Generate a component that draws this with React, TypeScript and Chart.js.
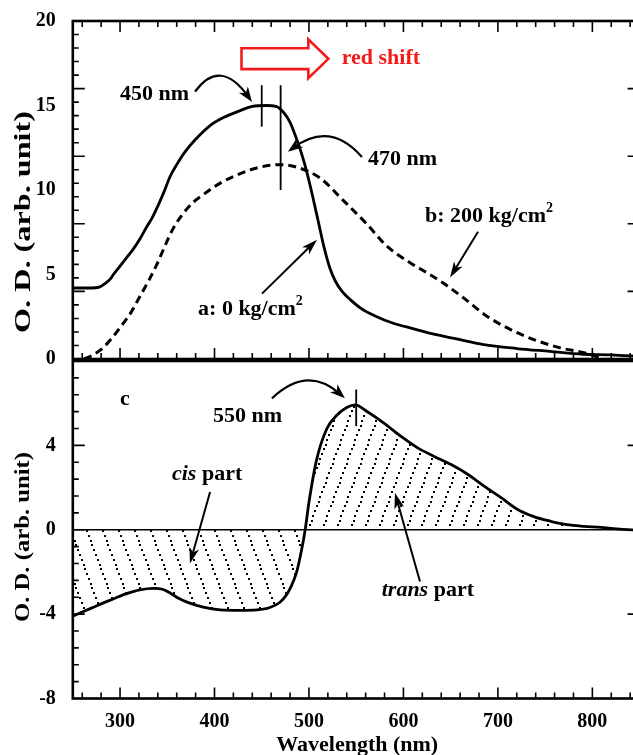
import React, { useEffect, useRef } from "react";
import { Chart, registerables } from "chart.js";
Chart.register(...registerables);

// ---- data ----
// curve a: 0 kg/cm2 (solid)
const aWavelength = [250,260,270,278,285,290,293,300,307,314,321,328,334,340,347,353,360,368,380,395,410,425,440,455,465,473,480,487,493,498,504,510,516,522,528,535,544,555,570,590,610,630,655,685,720,755,790,820,850];
const aOD = [4.2,4.2,4.2,4.25,4.5,4.75,5.0,5.5,6.0,6.5,7.1,7.8,8.35,9.05,9.95,10.8,11.5,12.2,13.0,13.8,14.3,14.65,14.95,15.0,14.95,14.6,14.0,13.0,12.0,11.0,9.6,8.1,6.6,5.4,4.6,4.0,3.5,3.0,2.55,2.1,1.8,1.5,1.2,0.85,0.62,0.45,0.28,0.25,0.15];
// curve b: 200 kg/cm2 (dashed)
const bWavelength = [262,270,282,293,302,311,321,330,339,348,356,366,378,390,400,420,448,470,490,512,536,561,582,607,625,642,664,688,713,738,766,791,801,812];
const bOD = [0,0.2,0.66,1.35,2.0,2.7,3.7,4.6,5.6,6.75,7.7,8.55,9.3,9.8,10.2,10.8,11.35,11.5,11.3,10.7,9.4,8.0,6.7,5.7,5.1,4.5,3.6,2.55,1.75,1.15,0.66,0.37,0.2,0];
// curve c: difference spectrum
const cWavelength = [250,260,272,289,307,321,335,345,353,362,371,388,406,427,445,458,469,476,481,487,492,496,500,508,519,530,540,549,561,579,597,615,632,650,668,685,703,720,738,756,773,791,809,826,850];
const cOD = [-4.1,-3.9,-3.67,-3.35,-3.03,-2.85,-2.78,-2.82,-3.0,-3.25,-3.43,-3.67,-3.8,-3.82,-3.8,-3.7,-3.45,-3.1,-2.7,-2.0,-1.0,0,1.3,3.3,4.8,5.45,5.8,5.92,5.62,5.07,4.44,3.88,3.49,3.1,2.63,2.08,1.53,0.98,0.62,0.4,0.24,0.16,0.11,0.04,-0.02];

const xTickLabels = [300, 400, 500, 600, 700, 800];
const topYTickLabels = [0, 5, 10, 15, 20];
const bottomYTickLabels = [-8, -4, 0, 4];
const X_MIN = 250;
const X_MAX = 850;
const TOP_Y = [0, 20];
const BOT_Y = [-8, 8];
const Y_TITLE = "O. D. (arb. unit)";
const X_TITLE = "Wavelength (nm)";

const FONT = '"Liberation Serif", "Times New Roman", serif';
const RED = "#f21a1a";

// ---- layout ----
const CW = 660;
const PLOT_LEFT = 72.8;
const PAD_RIGHT = 20.4;

function pts(xs: number[], ys: number[]) {
  return xs.map((x, i) => ({ x, y: ys[i] }));
}

function makeHatch(w: number, h: number, slash: boolean, n: number) {
  const c = document.createElement("canvas");
  c.width = w;
  c.height = h;
  const g = c.getContext("2d")!;
  g.fillStyle = "#000";
  for (let i = 0; i < n; i++) {
    const t = i / n;
    const x = t * w;
    const y = slash ? h - t * h : t * h;
    for (const dx of [-w, 0, w])
      for (const dy of [-h, 0, h]) g.fillRect(Math.round(x + dx - 1), Math.round(y + dy - 1), 2, 2);
  }
  return g.createPattern(c, "repeat")!;
}

function arrowHead(ctx: CanvasRenderingContext2D, x: number, y: number, ang: number, len = 14, half = 5) {
  const c = Math.cos(ang), s = Math.sin(ang);
  ctx.beginPath();
  ctx.moveTo(x, y);
  ctx.lineTo(x - len * c + half * s, y - len * s - half * c);
  ctx.lineTo(x - len * 0.72 * c, y - len * 0.72 * s);
  ctx.lineTo(x - len * c - half * s, y - len * s + half * c);
  ctx.closePath();
  ctx.fill();
}

function drawRich(ctx: CanvasRenderingContext2D, parts: Array<[string, string]>, x: number, y: number, size: number, color = "#000") {
  ctx.save();
  ctx.fillStyle = color;
  ctx.textBaseline = "middle";
  ctx.textAlign = "left";
  let cx = x;
  for (const [t, st] of parts) {
    let s = size, dy = 0, style = "";
    if (st === "sup") { s = Math.round(size * 0.62); dy = -size * 0.36; }
    if (st === "i") style = "italic ";
    ctx.font = `${style}bold ${s}px ${FONT}`;
    ctx.fillText(t, cx, y + dy);
    cx += ctx.measureText(t).width;
  }
  ctx.restore();
}

function drawYTitle(ctx: CanvasRenderingContext2D, cx: number, cy: number, len: number, size: number) {
  ctx.save();
  ctx.font = `bold ${size}px ${FONT}`;
  const w = ctx.measureText(Y_TITLE).width;
  ctx.translate(cx, cy);
  ctx.rotate(-Math.PI / 2);
  ctx.scale(len / w, 1);
  ctx.textAlign = "center";
  ctx.textBaseline = "middle";
  ctx.fillStyle = "#000";
  ctx.fillText(Y_TITLE, 0, 0);
  ctx.restore();
}

function drawFrame(chart: any, yMin: number, yMax: number, topXTicks: boolean, bottomXTicks: boolean) {
  const ctx: CanvasRenderingContext2D = chart.ctx;
  const { left, right, top, bottom } = chart.chartArea;
  const xs = chart.scales.x, ys = chart.scales.y;
  ctx.save();
  ctx.strokeStyle = "#000";
  ctx.lineWidth = 1.6;
  ctx.beginPath();
  for (let nm = 260; nm < X_MAX; nm += 20) {
    const p = xs.getPixelForValue(nm);
    const len = nm % 100 === 0 ? 11 : 6;
    if (topXTicks) { ctx.moveTo(p, top); ctx.lineTo(p, top + len); }
    if (bottomXTicks) { ctx.moveTo(p, bottom); ctx.lineTo(p, bottom - len); }
  }
  const n = Math.round((yMax - yMin) / 0.8);
  for (let i = 1; i < n; i++) {
    const v = yMin + i * 0.8;
    const p = ys.getPixelForValue(v);
    const major = Math.abs(Math.round(v * 10)) % 40 === 0;
    const len = major ? 12 : 6;
    ctx.moveTo(left, p); ctx.lineTo(left + len, p);
    ctx.moveTo(right, p); ctx.lineTo(right - len, p);
  }
  ctx.stroke();
  ctx.lineWidth = 2.6;
  ctx.strokeRect(left, top, right - left, bottom - top);
  ctx.restore();
}

function vMark(chart: any, nm: number, v0: number, v1: number) {
  const ctx: CanvasRenderingContext2D = chart.ctx;
  const x = chart.scales.x.getPixelForValue(nm);
  ctx.save();
  ctx.strokeStyle = "#000";
  ctx.lineWidth = 1.8;
  ctx.beginPath();
  ctx.moveTo(x, chart.scales.y.getPixelForValue(v0));
  ctx.lineTo(x, chart.scales.y.getPixelForValue(v1));
  ctx.stroke();
  ctx.restore();
}

function straightArrow(chart: any, x0: number, v0: number, x1: number, v1: number) {
  const ctx: CanvasRenderingContext2D = chart.ctx;
  const X = (v: number) => chart.scales.x.getPixelForValue(v);
  const Y = (v: number) => chart.scales.y.getPixelForValue(v);
  const ax = X(x0), ay = Y(v0), bx = X(x1), by = Y(v1);
  const ang = Math.atan2(by - ay, bx - ax);
  ctx.save();
  ctx.strokeStyle = "#000";
  ctx.fillStyle = "#000";
  ctx.lineWidth = 2;
  ctx.beginPath();
  ctx.moveTo(ax, ay);
  ctx.lineTo(bx - 8 * Math.cos(ang), by - 8 * Math.sin(ang));
  ctx.stroke();
  arrowHead(ctx, bx, by, ang, 16, 5);
  ctx.restore();
}

function curvedArrow(chart: any, p0: number[], c: number[], p2: number[]) {
  const ctx: CanvasRenderingContext2D = chart.ctx;
  const X = (v: number) => chart.scales.x.getPixelForValue(v);
  const Y = (v: number) => chart.scales.y.getPixelForValue(v);
  const ax = X(p0[0]), ay = Y(p0[1]), cx = X(c[0]), cy = Y(c[1]), bx = X(p2[0]), by = Y(p2[1]);
  const ang = Math.atan2(by - cy, bx - cx);
  ctx.save();
  ctx.strokeStyle = "#000";
  ctx.fillStyle = "#000";
  ctx.lineWidth = 2.2;
  ctx.beginPath();
  ctx.moveTo(ax, ay);
  ctx.quadraticCurveTo(cx, cy, bx - 6 * Math.cos(ang), by - 6 * Math.sin(ang));
  ctx.stroke();
  arrowHead(ctx, bx, by, ang, 15, 5.5);
  ctx.restore();
}

const topPlugin = {
  id: "topDecor",
  afterDatasetsDraw(chart: any) {
    const ctx: CanvasRenderingContext2D = chart.ctx;
    const X = (v: number) => chart.scales.x.getPixelForValue(v);
    const Y = (v: number) => chart.scales.y.getPixelForValue(v);
    drawFrame(chart, TOP_Y[0], TOP_Y[1], true, true);
    vMark(chart, 450, 13.75, 16.2);
    vMark(chart, 470, 10.0, 16.2);
    ctx.save();
    ctx.strokeStyle = RED;
    ctx.fillStyle = "#fff";
    ctx.lineWidth = 2.6;
    ctx.beginPath();
    ctx.moveTo(X(428.6), Y(18.39));
    ctx.lineTo(X(499.3), Y(18.39));
    ctx.lineTo(X(499.3), Y(18.92));
    ctx.lineTo(X(520.5), Y(17.76));
    ctx.lineTo(X(499.3), Y(16.61));
    ctx.lineTo(X(499.3), Y(17.15));
    ctx.lineTo(X(428.6), Y(17.15));
    ctx.closePath();
    ctx.fill();
    ctx.stroke();
    ctx.restore();
    drawRich(ctx, [["red shift", "b"]], X(534.6), Y(17.8), 22, RED);
    drawRich(ctx, [["450 nm", "b"]], X(300), Y(15.69), 22);
    curvedArrow(chart, [379.4, 15.82], [406.3, 17.86], [439.7, 15.21]);
    drawRich(ctx, [["470 nm", "b"]], X(562.5), Y(11.79), 22);
    curvedArrow(chart, [556, 11.95], [522.3, 14.12], [477.7, 12.26]);
    drawRich(ctx, [["a: 0 kg/cm", "b"], ["2", "sup"]], X(382.6), Y(2.92), 22);
    straightArrow(chart, 450.3, 3.87, 508.5, 7.06);
    drawRich(ctx, [["b: 200 kg/cm", "b"], ["2", "sup"]], X(622.8), Y(8.44), 22);
    straightArrow(chart, 679, 7.53, 649.3, 4.82);
    drawYTitle(ctx, 24, 222, 222, 24);
  },
};

const bottomPlugin = {
  id: "bottomDecor",
  beforeDatasetsDraw(chart: any) {
    const ctx: CanvasRenderingContext2D = chart.ctx;
    const { left, right } = chart.chartArea;
    const y0 = chart.scales.y.getPixelForValue(0);
    ctx.save();
    ctx.strokeStyle = "#000";
    ctx.lineWidth = 1.6;
    ctx.beginPath();
    ctx.moveTo(left, y0);
    ctx.lineTo(right, y0);
    ctx.stroke();
    ctx.restore();
  },
  afterDatasetsDraw(chart: any) {
    const ctx: CanvasRenderingContext2D = chart.ctx;
    const X = (v: number) => chart.scales.x.getPixelForValue(v);
    const Y = (v: number) => chart.scales.y.getPixelForValue(v);
    drawFrame(chart, BOT_Y[0], BOT_Y[1], false, true);
    vMark(chart, 550, 4.91, 6.65);
    drawRich(ctx, [["c", "b"]], X(300), Y(6.2), 22);
    drawRich(ctx, [["550 nm", "b"]], X(398.4), Y(5.38), 22);
    curvedArrow(chart, [460.8, 6.23], [498.4, 7.83], [538, 6.23]);
    drawRich(ctx, [["cis", "i"], [" part", "b"]], X(355), Y(2.64), 22);
    straightArrow(chart, 395.3, 1.79, 374, -1.6);
    drawRich(ctx, [["trans", "i"], [" part", "b"]], X(577), Y(-2.88), 22);
    straightArrow(chart, 617.5, -2.45, 591, 1.75);
    drawYTitle(ctx, 24, 197, 170, 21);
    const { left, right } = chart.chartArea;
    ctx.save();
    ctx.font = `bold 22px ${FONT}`;
    ctx.fillStyle = "#000";
    ctx.textAlign = "center";
    ctx.textBaseline = "alphabetic";
    ctx.fillText(X_TITLE, (left + right) / 2 + 1, 411);
    ctx.restore();
  },
};

const tickFont = { family: FONT, size: 20, weight: "bold" as const };

export default function App() {
  const topRef = useRef<HTMLCanvasElement>(null);
  const botRef = useRef<HTMLCanvasElement>(null);

  useEffect(() => {
    const cisPat = makeHatch(16, 43, false, 9);
    const transPat = makeHatch(14, 38, true, 8);

    const topChart = new Chart(topRef.current!, {
      type: "line",
      data: {
        datasets: [
          { data: pts(aWavelength, aOD), borderColor: "#000", borderWidth: 2.8, pointRadius: 0, cubicInterpolationMode: "monotone", fill: false },
          { data: pts(bWavelength, bOD), borderColor: "#000", borderWidth: 3, borderDash: [8, 5], pointRadius: 0, cubicInterpolationMode: "monotone", fill: false },
        ],
      } as any,
      options: {
        responsive: false,
        animation: false,
        devicePixelRatio: 1,
        events: [],
        layout: { padding: { left: 0, right: PAD_RIGHT, top: 21, bottom: 20.5 } },
        plugins: { legend: { display: false }, tooltip: { enabled: false } },
        scales: {
          x: { type: "linear", min: X_MIN, max: X_MAX, display: false },
          y: {
            type: "linear", min: TOP_Y[0], max: TOP_Y[1],
            grid: { display: false }, border: { display: false },
            afterFit: (s: any) => { s.width = PLOT_LEFT; },
            afterBuildTicks: (s: any) => { s.ticks = topYTickLabels.map((v) => ({ value: v })); },
            ticks: { font: tickFont, color: "#000", padding: 9 },
          },
        },
      } as any,
      plugins: [topPlugin],
    });

    const botChart = new Chart(botRef.current!, {
      type: "line",
      data: {
        datasets: [
          {
            data: pts(cWavelength, cOD), borderColor: "#000", borderWidth: 2.8, pointRadius: 0,
            cubicInterpolationMode: "monotone",
            fill: { target: "origin", above: transPat, below: cisPat },
          },
        ],
      } as any,
      options: {
        responsive: false,
        animation: false,
        devicePixelRatio: 1,
        events: [],
        layout: { padding: { left: 0, right: PAD_RIGHT, top: 19.5, bottom: 0 } },
        plugins: { legend: { display: false }, tooltip: { enabled: false }, filler: { propagate: false } },
        scales: {
          x: {
            type: "linear", min: X_MIN, max: X_MAX,
            grid: { display: false }, border: { display: false },
            afterFit: (s: any) => { s.height = 56.5; },
            afterBuildTicks: (s: any) => { s.ticks = xTickLabels.map((v) => ({ value: v })); },
            ticks: { font: tickFont, color: "#000", padding: 3, maxRotation: 0, autoSkip: false },
          },
          y: {
            type: "linear", min: BOT_Y[0], max: BOT_Y[1],
            grid: { display: false }, border: { display: false },
            afterFit: (s: any) => { s.width = PLOT_LEFT; },
            afterBuildTicks: (s: any) => { s.ticks = bottomYTickLabels.map((v) => ({ value: v })); },
            ticks: { font: tickFont, color: "#000", padding: 9 },
          },
        },
      } as any,
      plugins: [bottomPlugin],
    });

    return () => {
      topChart.destroy();
      botChart.destroy();
    };
  }, []);

  return (
    <div style={{ position: "fixed", left: 0, top: 0, width: 633, height: 755, overflow: "hidden", background: "#fff" }}>
      <canvas ref={topRef} width={CW} height={380} style={{ position: "absolute", left: 0, top: 0, width: CW, height: 380 }} />
      <canvas ref={botRef} width={CW} height={415} style={{ position: "absolute", left: 0, top: 340, width: CW, height: 415 }} />
    </div>
  );
}
